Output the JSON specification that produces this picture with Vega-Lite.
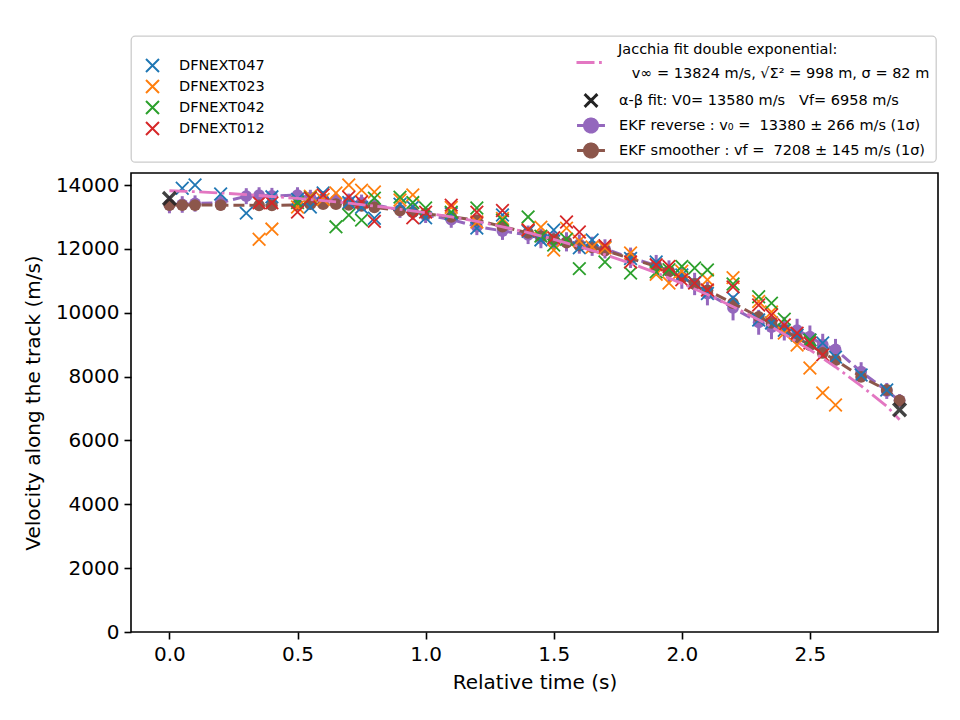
{
  "$schema": "https://vega.github.io/schema/vega-lite/v6.json",
  "padding": {"left": 22, "top": 35, "right": 20, "bottom": 10},
  "spacing": 9,
  "config": {
    "font": "DejaVu Sans",
    "view": {"stroke": "black", "strokeWidth": 1.6},
    "axis": {
      "grid": false, "domain": false, "tickColor": "black", "tickSize": 7, "tickWidth": 1.6,
      "labelFontSize": 20, "labelColor": "black", "labelPadding": 5,
      "titleFontSize": 20, "titleFontWeight": "normal", "titleColor": "black"
    },
    "legend": {"padding": 0, "titleFontSize": 0}
  },
  "datasets": {
    "cams": [
      {"cam": "DFNEXT047", "t": 0.05, "v": 13900}, {"cam": "DFNEXT047", "t": 0.1, "v": 14000},
      {"cam": "DFNEXT047", "t": 0.2, "v": 13720}, {"cam": "DFNEXT047", "t": 0.3, "v": 13120},
      {"cam": "DFNEXT047", "t": 0.4, "v": 13630}, {"cam": "DFNEXT047", "t": 0.5, "v": 13550},
      {"cam": "DFNEXT047", "t": 0.55, "v": 13310}, {"cam": "DFNEXT047", "t": 0.6, "v": 13750},
      {"cam": "DFNEXT047", "t": 0.7, "v": 13450}, {"cam": "DFNEXT047", "t": 0.75, "v": 13300},
      {"cam": "DFNEXT047", "t": 0.8, "v": 12960}, {"cam": "DFNEXT047", "t": 0.9, "v": 13400},
      {"cam": "DFNEXT047", "t": 0.95, "v": 13310}, {"cam": "DFNEXT047", "t": 1.0, "v": 12970},
      {"cam": "DFNEXT047", "t": 1.1, "v": 13100}, {"cam": "DFNEXT047", "t": 1.2, "v": 12650},
      {"cam": "DFNEXT047", "t": 1.3, "v": 13060}, {"cam": "DFNEXT047", "t": 1.4, "v": 12550},
      {"cam": "DFNEXT047", "t": 1.45, "v": 12280}, {"cam": "DFNEXT047", "t": 1.5, "v": 12590},
      {"cam": "DFNEXT047", "t": 1.6, "v": 12030}, {"cam": "DFNEXT047", "t": 1.65, "v": 12280},
      {"cam": "DFNEXT047", "t": 1.7, "v": 12050}, {"cam": "DFNEXT047", "t": 1.8, "v": 11700},
      {"cam": "DFNEXT047", "t": 1.9, "v": 11590}, {"cam": "DFNEXT047", "t": 2.0, "v": 11180},
      {"cam": "DFNEXT047", "t": 2.05, "v": 10950}, {"cam": "DFNEXT047", "t": 2.1, "v": 10600},
      {"cam": "DFNEXT047", "t": 2.2, "v": 10460}, {"cam": "DFNEXT047", "t": 2.3, "v": 9770},
      {"cam": "DFNEXT047", "t": 2.35, "v": 9680}, {"cam": "DFNEXT047", "t": 2.4, "v": 9450},
      {"cam": "DFNEXT047", "t": 2.45, "v": 9300}, {"cam": "DFNEXT047", "t": 2.5, "v": 9150},
      {"cam": "DFNEXT047", "t": 2.55, "v": 9050}, {"cam": "DFNEXT047", "t": 2.6, "v": 8610},
      {"cam": "DFNEXT047", "t": 2.7, "v": 8050}, {"cam": "DFNEXT047", "t": 2.8, "v": 7580},
      {"cam": "DFNEXT023", "t": 0.35, "v": 12300}, {"cam": "DFNEXT023", "t": 0.4, "v": 12620},
      {"cam": "DFNEXT023", "t": 0.5, "v": 13310}, {"cam": "DFNEXT023", "t": 0.55, "v": 13650},
      {"cam": "DFNEXT023", "t": 0.6, "v": 13550}, {"cam": "DFNEXT023", "t": 0.65, "v": 13750},
      {"cam": "DFNEXT023", "t": 0.7, "v": 14000}, {"cam": "DFNEXT023", "t": 0.75, "v": 13840},
      {"cam": "DFNEXT023", "t": 0.8, "v": 13780}, {"cam": "DFNEXT023", "t": 0.9, "v": 13530},
      {"cam": "DFNEXT023", "t": 0.95, "v": 13690}, {"cam": "DFNEXT023", "t": 1.1, "v": 13300},
      {"cam": "DFNEXT023", "t": 1.2, "v": 12840}, {"cam": "DFNEXT023", "t": 1.3, "v": 12950},
      {"cam": "DFNEXT023", "t": 1.4, "v": 12600}, {"cam": "DFNEXT023", "t": 1.45, "v": 12680},
      {"cam": "DFNEXT023", "t": 1.5, "v": 11960}, {"cam": "DFNEXT023", "t": 1.55, "v": 12650},
      {"cam": "DFNEXT023", "t": 1.6, "v": 12250}, {"cam": "DFNEXT023", "t": 1.65, "v": 12060},
      {"cam": "DFNEXT023", "t": 1.7, "v": 12030}, {"cam": "DFNEXT023", "t": 1.8, "v": 11870},
      {"cam": "DFNEXT023", "t": 1.9, "v": 11200}, {"cam": "DFNEXT023", "t": 1.95, "v": 10930},
      {"cam": "DFNEXT023", "t": 2.0, "v": 11300}, {"cam": "DFNEXT023", "t": 2.1, "v": 11030},
      {"cam": "DFNEXT023", "t": 2.2, "v": 11100}, {"cam": "DFNEXT023", "t": 2.3, "v": 10350},
      {"cam": "DFNEXT023", "t": 2.35, "v": 10020}, {"cam": "DFNEXT023", "t": 2.4, "v": 9360},
      {"cam": "DFNEXT023", "t": 2.45, "v": 8990}, {"cam": "DFNEXT023", "t": 2.5, "v": 8270},
      {"cam": "DFNEXT023", "t": 2.55, "v": 7490}, {"cam": "DFNEXT023", "t": 2.6, "v": 7110},
      {"cam": "DFNEXT042", "t": 0.5, "v": 13450}, {"cam": "DFNEXT042", "t": 0.55, "v": 13600},
      {"cam": "DFNEXT042", "t": 0.65, "v": 12690}, {"cam": "DFNEXT042", "t": 0.7, "v": 13060},
      {"cam": "DFNEXT042", "t": 0.75, "v": 12900}, {"cam": "DFNEXT042", "t": 0.8, "v": 13590},
      {"cam": "DFNEXT042", "t": 0.9, "v": 13620}, {"cam": "DFNEXT042", "t": 0.95, "v": 13450},
      {"cam": "DFNEXT042", "t": 1.0, "v": 13280}, {"cam": "DFNEXT042", "t": 1.1, "v": 13150},
      {"cam": "DFNEXT042", "t": 1.2, "v": 13280}, {"cam": "DFNEXT042", "t": 1.3, "v": 12900},
      {"cam": "DFNEXT042", "t": 1.4, "v": 13000}, {"cam": "DFNEXT042", "t": 1.45, "v": 12400},
      {"cam": "DFNEXT042", "t": 1.5, "v": 12120}, {"cam": "DFNEXT042", "t": 1.55, "v": 12300},
      {"cam": "DFNEXT042", "t": 1.6, "v": 11380}, {"cam": "DFNEXT042", "t": 1.7, "v": 11590},
      {"cam": "DFNEXT042", "t": 1.8, "v": 11240}, {"cam": "DFNEXT042", "t": 1.9, "v": 11280},
      {"cam": "DFNEXT042", "t": 1.95, "v": 11350}, {"cam": "DFNEXT042", "t": 2.0, "v": 11450},
      {"cam": "DFNEXT042", "t": 2.05, "v": 11400}, {"cam": "DFNEXT042", "t": 2.1, "v": 11340},
      {"cam": "DFNEXT042", "t": 2.2, "v": 10900}, {"cam": "DFNEXT042", "t": 2.3, "v": 10500},
      {"cam": "DFNEXT042", "t": 2.35, "v": 10300}, {"cam": "DFNEXT042", "t": 2.4, "v": 9800},
      {"cam": "DFNEXT042", "t": 2.5, "v": 9140},
      {"cam": "DFNEXT012", "t": 0.35, "v": 13440}, {"cam": "DFNEXT012", "t": 0.4, "v": 13440},
      {"cam": "DFNEXT012", "t": 0.5, "v": 13150}, {"cam": "DFNEXT012", "t": 0.55, "v": 13590},
      {"cam": "DFNEXT012", "t": 0.6, "v": 13690}, {"cam": "DFNEXT012", "t": 0.7, "v": 13620},
      {"cam": "DFNEXT012", "t": 0.75, "v": 13470}, {"cam": "DFNEXT012", "t": 0.8, "v": 12860},
      {"cam": "DFNEXT012", "t": 0.95, "v": 12970}, {"cam": "DFNEXT012", "t": 1.0, "v": 13150},
      {"cam": "DFNEXT012", "t": 1.1, "v": 13370}, {"cam": "DFNEXT012", "t": 1.2, "v": 13150},
      {"cam": "DFNEXT012", "t": 1.3, "v": 13200}, {"cam": "DFNEXT012", "t": 1.4, "v": 12590},
      {"cam": "DFNEXT012", "t": 1.5, "v": 12350}, {"cam": "DFNEXT012", "t": 1.55, "v": 12840},
      {"cam": "DFNEXT012", "t": 1.6, "v": 12530}, {"cam": "DFNEXT012", "t": 1.7, "v": 12100},
      {"cam": "DFNEXT012", "t": 1.8, "v": 11590}, {"cam": "DFNEXT012", "t": 1.9, "v": 11500},
      {"cam": "DFNEXT012", "t": 1.95, "v": 11450}, {"cam": "DFNEXT012", "t": 2.0, "v": 11030},
      {"cam": "DFNEXT012", "t": 2.05, "v": 10930}, {"cam": "DFNEXT012", "t": 2.1, "v": 10710},
      {"cam": "DFNEXT012", "t": 2.2, "v": 10810}, {"cam": "DFNEXT012", "t": 2.3, "v": 10240},
      {"cam": "DFNEXT012", "t": 2.35, "v": 9930}, {"cam": "DFNEXT012", "t": 2.4, "v": 9615},
      {"cam": "DFNEXT012", "t": 2.45, "v": 9360}, {"cam": "DFNEXT012", "t": 2.5, "v": 9050},
      {"cam": "DFNEXT012", "t": 2.55, "v": 8680}
    ],
    "ekfr": [
      {"t": 0.0, "v": 13380, "err": 266}, {"t": 0.05, "v": 13390, "err": 260}, {"t": 0.1, "v": 13420, "err": 255},
      {"t": 0.2, "v": 13450, "err": 250}, {"t": 0.3, "v": 13650, "err": 250}, {"t": 0.35, "v": 13680, "err": 250},
      {"t": 0.4, "v": 13660, "err": 250}, {"t": 0.5, "v": 13680, "err": 250}, {"t": 0.55, "v": 13600, "err": 250},
      {"t": 0.6, "v": 13560, "err": 250}, {"t": 0.65, "v": 13520, "err": 250}, {"t": 0.7, "v": 13480, "err": 250},
      {"t": 0.75, "v": 13450, "err": 250}, {"t": 0.8, "v": 13380, "err": 250}, {"t": 0.9, "v": 13220, "err": 250},
      {"t": 0.95, "v": 13150, "err": 250}, {"t": 1.0, "v": 13060, "err": 250}, {"t": 1.1, "v": 12920, "err": 260},
      {"t": 1.2, "v": 12700, "err": 270}, {"t": 1.3, "v": 12560, "err": 280}, {"t": 1.4, "v": 12440, "err": 290},
      {"t": 1.45, "v": 12320, "err": 300}, {"t": 1.5, "v": 12250, "err": 300}, {"t": 1.55, "v": 12220, "err": 300},
      {"t": 1.6, "v": 12150, "err": 300}, {"t": 1.65, "v": 12080, "err": 300}, {"t": 1.7, "v": 12000, "err": 300},
      {"t": 1.8, "v": 11720, "err": 320}, {"t": 1.9, "v": 11480, "err": 330}, {"t": 1.95, "v": 11300, "err": 340},
      {"t": 2.0, "v": 11100, "err": 350}, {"t": 2.05, "v": 10900, "err": 350}, {"t": 2.1, "v": 10600, "err": 370},
      {"t": 2.2, "v": 10150, "err": 390}, {"t": 2.3, "v": 9700, "err": 390}, {"t": 2.35, "v": 9550, "err": 380},
      {"t": 2.4, "v": 9500, "err": 370}, {"t": 2.45, "v": 9450, "err": 360}, {"t": 2.5, "v": 9250, "err": 350},
      {"t": 2.55, "v": 9000, "err": 340}, {"t": 2.6, "v": 8850, "err": 330}, {"t": 2.7, "v": 8150, "err": 300},
      {"t": 2.8, "v": 7550, "err": 250}, {"t": 2.85, "v": 7250, "err": 200}
    ],
    "ekfs": [
      {"t": 0.0, "v": 13370, "err": 145}, {"t": 0.05, "v": 13370, "err": 145}, {"t": 0.1, "v": 13370, "err": 145},
      {"t": 0.2, "v": 13370, "err": 145}, {"t": 0.35, "v": 13360, "err": 145}, {"t": 0.4, "v": 13360, "err": 145},
      {"t": 0.5, "v": 13380, "err": 145}, {"t": 0.55, "v": 13400, "err": 145}, {"t": 0.6, "v": 13400, "err": 145},
      {"t": 0.65, "v": 13400, "err": 145}, {"t": 0.7, "v": 13380, "err": 145}, {"t": 0.75, "v": 13350, "err": 145},
      {"t": 0.8, "v": 13300, "err": 145}, {"t": 0.9, "v": 13200, "err": 145}, {"t": 0.95, "v": 13150, "err": 145},
      {"t": 1.0, "v": 13100, "err": 145}, {"t": 1.1, "v": 13000, "err": 145}, {"t": 1.2, "v": 12900, "err": 145},
      {"t": 1.3, "v": 12700, "err": 145}, {"t": 1.4, "v": 12500, "err": 145}, {"t": 1.45, "v": 12400, "err": 145},
      {"t": 1.5, "v": 12300, "err": 145}, {"t": 1.55, "v": 12200, "err": 145}, {"t": 1.6, "v": 12100, "err": 145},
      {"t": 1.65, "v": 12050, "err": 145}, {"t": 1.7, "v": 11950, "err": 145}, {"t": 1.8, "v": 11700, "err": 145},
      {"t": 1.9, "v": 11450, "err": 145}, {"t": 1.95, "v": 11300, "err": 145}, {"t": 2.0, "v": 11100, "err": 145},
      {"t": 2.05, "v": 10900, "err": 145}, {"t": 2.1, "v": 10700, "err": 145}, {"t": 2.2, "v": 10300, "err": 145},
      {"t": 2.3, "v": 9870, "err": 145}, {"t": 2.35, "v": 9680, "err": 145}, {"t": 2.4, "v": 9460, "err": 145},
      {"t": 2.45, "v": 9210, "err": 145}, {"t": 2.5, "v": 8990, "err": 145}, {"t": 2.55, "v": 8740, "err": 145},
      {"t": 2.6, "v": 8520, "err": 145}, {"t": 2.7, "v": 7990, "err": 145}, {"t": 2.8, "v": 7580, "err": 145},
      {"t": 2.85, "v": 7250, "err": 145}
    ],
    "jacchia": [
      {"t": 0.0, "v": 13820}, {"t": 0.1, "v": 13790}, {"t": 0.2, "v": 13750}, {"t": 0.3, "v": 13700},
      {"t": 0.4, "v": 13640}, {"t": 0.5, "v": 13580}, {"t": 0.6, "v": 13510}, {"t": 0.7, "v": 13430},
      {"t": 0.8, "v": 13340}, {"t": 0.9, "v": 13240}, {"t": 1.0, "v": 13130}, {"t": 1.1, "v": 13000},
      {"t": 1.2, "v": 12860}, {"t": 1.3, "v": 12690}, {"t": 1.4, "v": 12510}, {"t": 1.5, "v": 12300},
      {"t": 1.6, "v": 12070}, {"t": 1.7, "v": 11820}, {"t": 1.8, "v": 11550}, {"t": 1.9, "v": 11250},
      {"t": 2.0, "v": 10920}, {"t": 2.1, "v": 10570}, {"t": 2.2, "v": 10190}, {"t": 2.3, "v": 9780},
      {"t": 2.4, "v": 9330}, {"t": 2.5, "v": 8840}, {"t": 2.6, "v": 8300}, {"t": 2.7, "v": 7710},
      {"t": 2.8, "v": 7070}, {"t": 2.85, "v": 6650}
    ],
    "ab": [{"t": 0.0, "v": 13580}, {"t": 2.85, "v": 6958}]
  },
  "vconcat": [
    {
      "width": 805,
      "height": 126,
      "view": {"stroke": "#cccccc", "strokeWidth": 1.3, "cornerRadius": 4},
      "data": {"values": [{}]},
      "mark": {"type": "point", "opacity": 0}
    },
    {
      "width": 807,
      "height": 459,
      "encoding": {
        "x": {"field": "t", "type": "quantitative", "title": "Relative time (s)",
              "scale": {"domain": [-0.15, 3.0], "nice": false, "zero": false},
              "axis": {"values": [0, 0.5, 1, 1.5, 2, 2.5], "format": ".1f", "titlePadding": 8}},
        "y": {"field": "v", "type": "quantitative", "title": "Velocity along the track (m/s)",
              "scale": {"domain": [0, 14376], "nice": false},
              "axis": {"values": [0, 2000, 4000, 6000, 8000, 10000, 12000, 14000], "format": "d", "titlePadding": 12}}
      },
      "layer": [
        {"data": {"name": "ekfr"},
         "mark": {"type": "errorbar", "ticks": false, "thickness": 3, "color": "#9467bd"},
         "encoding": {"yError": {"field": "err"}}},
        {"data": {"name": "ekfr"},
         "mark": {"type": "line", "strokeWidth": 3, "strokeDash": [11, 5]},
         "encoding": {"stroke": {"datum": "EKF reverse : v₀ =\u00a0 13380 ± 266 m/s (1σ)",
             "scale": {"domain": ["α-β fit: V0= 13580 m/s\u00a0\u00a0 Vf= 6958 m/s",
                                  "EKF reverse : v₀ =\u00a0 13380 ± 266 m/s (1σ)",
                                  "EKF smoother : vf =\u00a0 7208 ± 145 m/s (1σ)"],
                       "range": ["#222222", "#9467bd", "#8c564b"]},
             "legend": {"orient": "none", "legendX": 448, "legendY": 52.5, "title": null,
                      "symbolSize": 441, "symbolStrokeWidth": 3, "symbolDash": [1, 0], "symbolOpacity": 1,
                      "labelFontSize": 14.5, "labelColor": "black", "labelOffset": 16, "rowPadding": -2.5, "labelLimit": 500,
                      "encode": {"symbols": {"update": {"fill": {"scale": "stroke", "field": "value"}}}}}}}},
        {"data": {"name": "ekfr"},
         "mark": {"type": "point", "filled": true, "shape": "circle", "size": 140, "color": "#9467bd", "opacity": 1}},
        {"data": {"name": "ekfs"},
         "mark": {"type": "errorbar", "ticks": false, "thickness": 3, "color": "#8c564b"},
         "encoding": {"yError": {"field": "err"}}},
        {"data": {"name": "ekfs"},
         "mark": {"type": "line", "strokeWidth": 3, "strokeDash": [11, 5]},
         "encoding": {"stroke": {"datum": "EKF smoother : vf =\u00a0 7208 ± 145 m/s (1σ)"}}},
        {"data": {"name": "ekfs"},
         "mark": {"type": "point", "filled": true, "shape": "circle", "size": 140, "color": "#8c564b", "opacity": 1}},
        {"data": {"name": "cams"},
         "mark": {"type": "point", "filled": false, "shape": "M-1,-1L1,1M-1,1L1,-1", "size": 160, "strokeWidth": 1.8, "opacity": 1},
         "encoding": {
           "color": {"field": "cam", "type": "nominal",
                     "scale": {"domain": ["DFNEXT047", "DFNEXT023", "DFNEXT042", "DFNEXT012"],
                               "range": ["#1f77b4", "#ff7f0e", "#2ca02c", "#d62728"]},
                     "legend": {"orient": "none", "legendX": 14, "legendY": 22, "title": null,
                                "symbolType": "M-1,-1L1,1M-1,1L1,-1", "symbolSize": 169, "symbolStrokeWidth": 2,
                                "symbolOpacity": 1,
                                "labelFontSize": 14.5, "labelColor": "black", "labelOffset": 19, "rowPadding": 0}}
         }},
        {"data": {"name": "jacchia"},
         "mark": {"type": "line", "strokeWidth": 2.8, "stroke": "#e377c2"},
         "encoding": {"strokeDash": {"datum": "Jacchia fit double exponential:|\u200b\u00a0\u00a0\u00a0v∞ = 13824 m/s, √Σ² = 998 m, σ = 82 m",
           "scale": {"domain": ["Jacchia fit double exponential:|\u200b\u00a0\u00a0\u00a0v∞ = 13824 m/s, √Σ² = 998 m, σ = 82 m"],
                     "range": [[18, 4.5, 2.8, 4.5]]},
           "legend": {"orient": "none", "legendX": 444, "legendY": 11, "title": null,
                      "symbolType": "M-1,0H1", "symbolSize": 784, "symbolStrokeWidth": 2.8,
                      "symbolStrokeColor": "#e377c2", "symbolOpacity": 1,
                      "labelFontSize": 14.5, "labelColor": "black", "labelOffset": 12, "labelLimit": 500,
                      "labelExpr": "split(datum.label, '|')",
                      "encode": {"symbols": {"update": {"stroke": {"value": "#e377c2"}}},
                                 "labels": {"update": {"lineHeight": {"value": 24}, "dy": {"value": -13}}}}}}}},
        {"data": {"name": "ab"},
         "mark": {"type": "point", "filled": false, "size": 441, "strokeWidth": 3.3, "opacity": 0.85},
         "encoding": {
           "stroke": {"datum": "α-β fit: V0= 13580 m/s\u00a0\u00a0 Vf= 6958 m/s"},
           "shape": {"datum": "α-β fit: V0= 13580 m/s\u00a0\u00a0 Vf= 6958 m/s",
             "scale": {"domain": ["α-β fit: V0= 13580 m/s\u00a0\u00a0 Vf= 6958 m/s",
                                  "EKF reverse : v₀ =\u00a0 13380 ± 266 m/s (1σ)",
                                  "EKF smoother : vf =\u00a0 7208 ± 145 m/s (1σ)"],
                       "range": ["M-0.61,-0.61L0.61,0.61M-0.61,0.61L0.61,-0.61",
                                 "M-1.33,0H1.33M-0.62,0A0.62,0.62 0 1,0 0.62,0A0.62,0.62 0 1,0 -0.62,0",
                                 "M-1.33,0H1.33M-0.62,0A0.62,0.62 0 1,0 0.62,0A0.62,0.62 0 1,0 -0.62,0"]},
             "legend": {"orient": "none", "legendX": 448, "legendY": 52.5, "title": null,
                      "symbolSize": 441, "symbolStrokeWidth": 3, "symbolDash": [1, 0], "symbolOpacity": 1,
                      "labelFontSize": 14.5, "labelColor": "black", "labelOffset": 16, "rowPadding": -2.5, "labelLimit": 500,
                      "encode": {"symbols": {"update": {"fill": {"scale": "stroke", "field": "value"}}}}}}
         }}
      ]
    }
  ]
}
